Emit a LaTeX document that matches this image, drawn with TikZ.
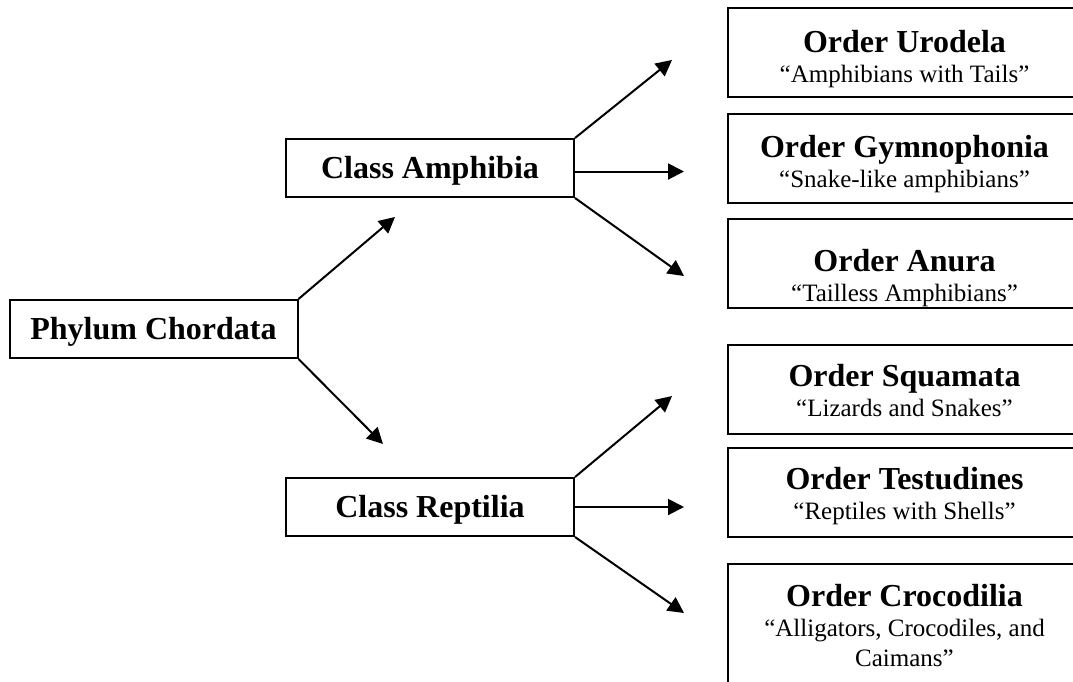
\documentclass[tikz,border=0pt]{standalone}
\usepackage{fontspec}
\setmainfont{Liberation Serif}
\usepackage{tikz}
\usetikzlibrary{arrows.meta}
\newcommand{\headfont}{\fontsize{32}{36}\selectfont\bfseries}
\newcommand{\notefont}{\fontsize{25}{30}\selectfont}

\tikzset{
	taxbox/.style={draw, line width=2pt, inner sep=0pt, minimum width=288pt, minimum height=58pt, font=\headfont, text height=21pt, text depth=0pt},
	orderbox/.style={draw, line width=2pt, anchor=north west, inner sep=0pt, minimum width=353pt, minimum height=89pt},
	ordertext/.style={anchor=north, inner sep=0pt, align=center, font=\notefont},
	link/.style={line width=2pt, -{Triangle[length=16pt,width=16pt]}}
}

\begin{document}
\begin{tikzpicture}[x=1pt, y=-1pt]
	\useasboundingbox (0,0) rectangle (1073,681);
	\clip (0,0) rectangle (1073,681);
	% phylum and classes
	\node[taxbox] (phylum) at (153.5,329) {Phylum Chordata};
	\node[taxbox] (amphibia) at (430,168) {Class Amphibia};
	\node[taxbox] (reptilia) at (430,507) {Class Reptilia};
	% orders
	\node[orderbox] (urodela) at (727,7) {};
	\node[orderbox] (gymno) at (727,112.5) {};
	\node[orderbox] (anura) at (727,218) {};
	\node[orderbox] (squamata) at (727,344) {};
	\node[orderbox] (testudines) at (727,447) {};
	\node[orderbox, minimum height=130pt] (croco) at (727,563) {};
	\node[ordertext] (urodelaT) at ([yshift=-23pt]urodela.north) {{\headfont Order Urodela}\\“Amphibians with Tails”};
	\node[ordertext] (gymnoT) at ([yshift=-23pt]gymno.north) {{\headfont Order Gymnophonia}\\“Snake-like amphibians”};
	\node[ordertext] (anuraT) at ([yshift=-31pt]anura.north) {{\headfont Order Anura}\\“Tailless Amphibians”};
	\node[ordertext] (squamataT) at ([yshift=-20pt]squamata.north) {{\headfont Order Squamata}\\“Lizards and Snakes”};
	\node[ordertext] (testudinesT) at ([yshift=-20pt]testudines.north) {{\headfont Order Testudines}\\“Reptiles with Shells”};
	\node[ordertext] (crocoT) at ([yshift=-21pt]croco.north) {{\headfont Order Crocodilia}\\“Alligators, Crocodiles, and\\Caimans”};
	% arrow ends
	\coordinate (toAmph) at (395,217);
	\coordinate (toRept) at (383,444);
	\coordinate (toUro) at (672,60);
	\coordinate (toGym) at (684,171.5);
	\coordinate (toAnu) at (684,276);
	\coordinate (toSqu) at (672,396);
	\coordinate (toTes) at (684,507);
	\coordinate (toCro) at (684,613);
	\draw[link] (phylum.north east) -- (toAmph);
	\draw[link] (phylum.south east) -- (toRept);
	\draw[link] (amphibia.north east) -- (toUro);
	\draw[link] ([yshift=-3.5pt]amphibia.east) -- (toGym);
	\draw[link] (amphibia.south east) -- (toAnu);
	\draw[link] (reptilia.north east) -- (toSqu);
	\draw[link] (reptilia.east) -- (toTes);
	\draw[link] (reptilia.south east) -- (toCro);
\end{tikzpicture}
\end{document}
